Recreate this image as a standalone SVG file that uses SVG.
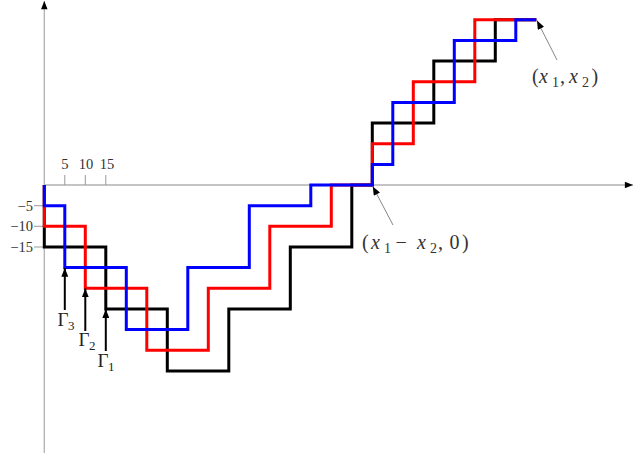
<svg xmlns="http://www.w3.org/2000/svg" width="633" height="456" viewBox="0 0 633 456">
<defs>
<marker id="ah" viewBox="0 0 10 8" refX="10" refY="4" markerWidth="9" markerHeight="7" markerUnits="userSpaceOnUse" orient="auto">
<path d="M0,0 L10,4 L0,8 Z" fill="#000"/>
</marker>
<marker id="ahs" viewBox="0 0 10 8" refX="10" refY="4" markerWidth="9" markerHeight="6.5" markerUnits="userSpaceOnUse" orient="auto">
<path d="M0,0 L10,4 L0,8 Z" fill="#000"/>
</marker>
</defs>
<style>
.axis{stroke:#b0b0b0;stroke-width:1.3;fill:none}
.tick{stroke:#999;stroke-width:1;fill:none}
.path{fill:none;stroke-width:3;stroke-linejoin:miter;stroke-linecap:butt}
.ptr{stroke:#777;stroke-width:0.9;fill:none}
.garr{stroke:#000;stroke-width:2;fill:none}
text{font-family:"Liberation Serif","DejaVu Serif",serif;fill:#333}
.tl{font-size:14.5px}
.big{font-size:20px}
.sub{font-size:14px}
.gam{font-size:19px;fill:#222}
.gsub{font-size:13px;fill:#222}
</style>
<g id="axes">
<line class="axis" x1="44.3" y1="453" x2="44.3" y2="1" marker-end="url(#ahs)"/>
<line class="axis" x1="44.3" y1="185" x2="633" y2="185" marker-end="url(#ahs)"/>
<path class="tick" d="M64.8,175 V185 M85.3,175 V185 M105.8,175 V185 M34,205.7 H44.3 M34,226.3 H44.3 M34,247 H44.3"/>
<text class="tl" x="64.8" y="169" text-anchor="middle">5</text>
<text class="tl" x="86" y="169" text-anchor="middle">10</text>
<text class="tl" x="107" y="169" text-anchor="middle">15</text>
<text class="tl" x="33" y="210.5" text-anchor="end">−5</text>
<text class="tl" x="33" y="231" text-anchor="end">−10</text>
<text class="tl" x="33" y="251.5" text-anchor="end">−15</text>
</g>
<g id="gamma1">
<path class="path" stroke="#000" d="M44.3,185 V247 H105.8 V308.9 H167.3 V370.9 H228.8 V308.9 H290.3 V247 H351.8 V185 H372.3 V123.1 H433.8 V61.1 H495.3 V19.8 H536.3"/>
</g>
<g id="gamma2">
<path class="path" stroke="#ff0000" d="M44.3,185 V226.3 H85.3 V288.3 H146.8 V350.2 H208.3 V288.3 H269.8 V226.3 H331.3 V185 H372.3 V143.7 H413.3 V81.8 H474.8 V19.8 H536.3"/>
</g>
<g id="gamma3">
<path class="path" stroke="#0000ff" d="M44.3,185 V205.7 H64.8 V267.6 H126.3 V329.6 H187.8 V267.6 H249.3 V205.7 H310.8 V185 H372.3 V164.4 H392.8 V102.4 H454.3 V40.5 H515.8 V19.8 H536.3"/>
</g>
<g id="connectors">
<line class="garr" x1="64.8" y1="310" x2="64.8" y2="268" marker-end="url(#ah)"/>
<line class="garr" x1="85.3" y1="331" x2="85.3" y2="288.5" marker-end="url(#ah)"/>
<line class="garr" x1="105.8" y1="351" x2="105.8" y2="309.2" marker-end="url(#ah)"/>
<line class="ptr" x1="393" y1="225" x2="372.8" y2="186.5" marker-end="url(#ah)"/>
<line class="ptr" x1="557" y1="60" x2="537" y2="20.5" marker-end="url(#ah)"/>
</g>
<g id="label-g3"><text class="gam" x="57.5" y="326">Γ</text><text class="gsub" x="68" y="330">3</text></g>
<g id="label-g2"><text class="gam" x="78.5" y="346">Γ</text><text class="gsub" x="89" y="350">2</text></g>
<g id="label-g1"><text class="gam" x="97.5" y="367">Γ</text><text class="gsub" x="108" y="371">1</text></g>
<g id="label-start">
<text class="big" x="362" y="249">(</text>
<text class="big" x="371" y="249" font-style="italic">x</text>
<text class="sub" x="384" y="253">1</text>
<text class="big" x="395.5" y="249">−</text>
<text class="big" x="417" y="249" font-style="italic">x</text>
<text class="sub" x="430" y="253">2</text>
<text class="big" x="438" y="249">,</text>
<text class="big" x="449.5" y="249">0</text>
<text class="big" x="462" y="249">)</text>
</g>
<g id="label-end">
<text class="big" x="532" y="83">(</text>
<text class="big" x="539" y="83" font-style="italic">x</text>
<text class="sub" x="552" y="87">1</text>
<text class="big" x="560" y="83">,</text>
<text class="big" x="569" y="83" font-style="italic">x</text>
<text class="sub" x="582" y="87">2</text>
<text class="big" x="591.5" y="83">)</text>
</g>
</svg>
